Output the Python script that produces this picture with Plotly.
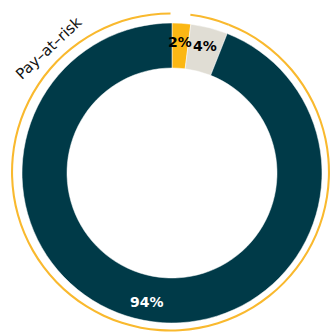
import math
import plotly.graph_objects as go

labels = ["A", "B", "C"]
values = [2, 4, 94]
slice_colors = ["#FBB714", "#E0DDD4", "#003A48"]
text_colors = ["#000000", "#000000", "#FFFFFF"]
ring_colors = ["rgba(0,0,0,0)", "#F9B92E", "#F9B92E"]
ring_label = "Pay–at–risk"

W, H = 330, 333
CX, CY, R, HOLE = 172, 173, 150, 0.7

fig = go.Figure()

# outer thin ring (covers the slices after the first)
fig.add_trace(go.Pie(
    labels=labels, values=values, sort=False, direction="clockwise", rotation=0,
    hole=0.987,
    marker=dict(colors=ring_colors, line=dict(width=0)),
    textinfo="none", hoverinfo="skip", showlegend=False,
    domain=dict(x=[11 / W, 330 / W], y=[1 / H, 321 / H]),
))

# main donut
fig.add_trace(go.Pie(
    labels=labels, values=values, sort=False, direction="clockwise", rotation=0,
    hole=HOLE,
    marker=dict(colors=slice_colors, line=dict(color="#FFFFFF", width=0.5)),
    textinfo="none", showlegend=False,
    domain=dict(x=[(CX - R) / W, (CX + R) / W], y=[(H - CY - R) / H, (H - CY + R) / H]),
))

# percentage labels placed at the middle angle of each slice
total = sum(values)
cum = 0
label_r = 131
for v, tc in zip(values, text_colors):
    mid = (cum + v / 2) / total * 2 * math.pi
    cum += v
    px = CX + label_r * math.sin(mid)
    py = CY - label_r * math.cos(mid)
    fig.add_annotation(
        text=f"<b>{round(v / total * 100)}%</b>", x=px / W, y=1 - py / H,
        xref="paper", yref="paper", showarrow=False,
        font=dict(family="DejaVu Sans", size=14, color=tc),
        xanchor="center", yanchor="middle",
    )

fig.add_annotation(
    text=ring_label, x=49 / W, y=1 - 48 / H, xref="paper", yref="paper",
    showarrow=False, textangle=-43,
    font=dict(family="DejaVu Sans", size=15, color="#111111"),
    xanchor="center", yanchor="middle",
)

fig.update_layout(
    width=W, height=H,
    margin=dict(l=0, r=0, t=0, b=0),
    paper_bgcolor="white", plot_bgcolor="white",
)

fig.write_html("out.html")
